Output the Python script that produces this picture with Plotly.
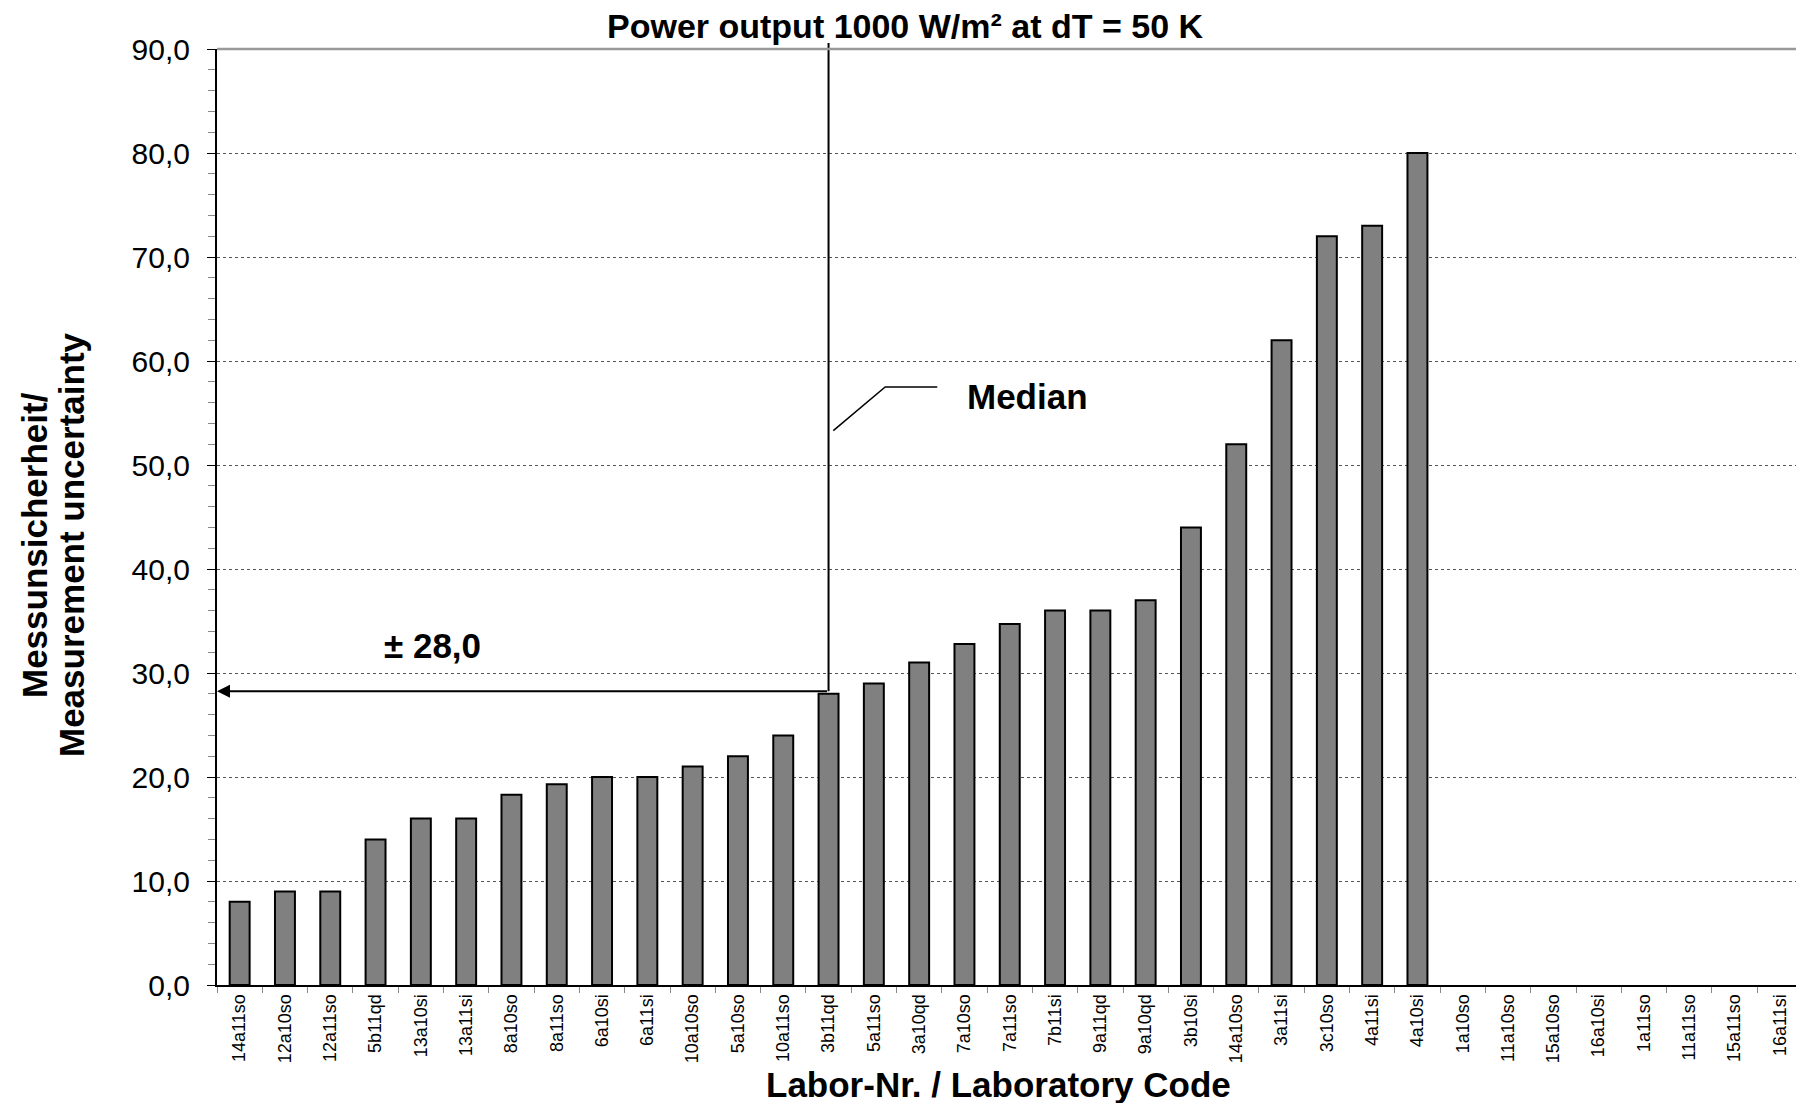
import plotly.graph_objects as go

# ---------------- data ----------------
lab_codes = ["14a11so", "12a10so", "12a11so", "5b11qd", "13a10si", "13a11si", "8a10so", "8a11so",
             "6a10si", "6a11si", "10a10so", "5a10so", "10a11so", "3b11qd", "5a11so", "3a10qd",
             "7a10so", "7a11so", "7b11si", "9a11qd", "9a10qd", "3b10si", "14a10so", "3a11si",
             "3c10so", "4a11si", "4a10si",
             "1a10so", "11a10so", "15a10so", "16a10si", "1a11so", "11a11so", "15a11so", "16a11si"]
uncertainty = [8.0, 9.0, 9.0, 14.0, 16.0, 16.0, 18.3, 19.3,
               20.0, 20.0, 21.0, 22.0, 24.0, 28.0, 29.0, 31.0,
               32.8, 34.7, 36.0, 36.0, 37.0, 44.0, 52.0, 62.0,
               72.0, 73.0, 80.0,
               None, None, None, None, None, None, None, None]
median_lab = "3b11qd"
median_value = 28.0
y_ticks = [0, 10, 20, 30, 40, 50, 60, 70, 80, 90]

title_text = "Power output 1000 W/m² at dT = 50 K"
y_title_1 = "Messunsicherheit/"
y_title_2 = "Measurement uncertainty"
x_title = "Labor-Nr. / Laboratory Code"

FONT = "Arial, 'Liberation Sans', sans-serif"

W, H = 1796, 1103
ML, MT = 217, 49
MR = 0
MB = H - 985
PW, PH = W - ML - MR, H - MT - MB

def px_x(p):  # pixel -> paper x
    return (p - ML) / PW

def px_y(p):  # pixel -> paper y
    return (H - MB - p) / PH

fig = go.Figure()
fig.add_trace(go.Bar(
    x=lab_codes, y=uncertainty,
    marker=dict(color="#808080", line=dict(color="black", width=2)),
    showlegend=False, hoverinfo="x+y",
))

mi = lab_codes.index(median_lab)

# median vertical line (extends slightly above plot)
fig.add_shape(type="line", xref="x", yref="paper",
              x0=mi, x1=mi, y0=(median_value + 0.25) / 90, y1=1 + 6 / PH,
              line=dict(color="black", width=2), layer="above")
# top border of plot area
fig.add_shape(type="line", xref="paper", yref="paper", x0=0, x1=1, y0=1, y1=1,
              line=dict(color="#999999", width=2.5), layer="above")
# median leader line
fig.add_shape(type="path", xref="x", yref="y",
              path=f"M {mi + 0.105},53.3 L {mi + 1.25},57.5 L {mi + 2.4},57.5",
              line=dict(color="black", width=1.5), layer="above")

annotations = [
    dict(text=f"<b>{title_text}</b>", xref="paper", yref="paper", x=px_x(905), y=px_y(26),
         xanchor="center", yanchor="middle", showarrow=False, font=dict(size=34, color="black", family=FONT)),
    dict(text=f"<b>{y_title_1}</b>", xref="paper", yref="paper", x=px_x(34), y=px_y(545),
         xanchor="center", yanchor="middle", textangle=-90, showarrow=False,
         font=dict(size=35, color="black", family=FONT)),
    dict(text=f"<b>{y_title_2}</b>", xref="paper", yref="paper", x=px_x(71), y=px_y(545),
         xanchor="center", yanchor="middle", textangle=-90, showarrow=False,
         font=dict(size=35, color="black", family=FONT)),
    dict(text=f"<b>{x_title}</b>", xref="paper", yref="paper", x=px_x(998), y=px_y(1084),
         xanchor="center", yanchor="middle", showarrow=False, font=dict(size=35, color="black", family=FONT)),
    dict(text="<b>Median</b>", xref="x", yref="y", x=mi + 4.4, y=56.6,
         xanchor="center", yanchor="middle", showarrow=False, font=dict(size=35, color="black", family=FONT)),
    dict(text=f"<b>± {median_value:.1f}</b>".replace(".", ","), xref="x", yref="y", x=4.25, y=32.6,
         xanchor="center", yanchor="middle", showarrow=False, font=dict(size=35, color="black", family=FONT)),
    # arrow from median to y axis
    dict(text="", xref="x", yref="y", x=-0.5, y=median_value + 0.25,
         axref="x", ayref="y", ax=mi, ay=median_value + 0.25,
         showarrow=True, arrowhead=2, arrowsize=1.3, arrowwidth=2, arrowcolor="black",
         standoff=0, startstandoff=0),
]

fig.update_layout(
    width=W, height=H, autosize=False,
    margin=dict(l=ML, r=MR, t=MT, b=MB, pad=0),
    paper_bgcolor="white", plot_bgcolor="white",
    separators=",.",
    bargap=0.56,
    font=dict(family=FONT, color="black"),
    annotations=annotations,
)

fig.update_xaxes(
    type="category", range=[-0.5, -0.5 + PW / 45.3],
    showline=True, linecolor="black", linewidth=2,
    ticks="outside", ticklen=6, tickcolor="#888888", tickwidth=1, tickson="boundaries",
    tickangle=-90, tickfont=dict(size=18, family=FONT, color="black"),
    showgrid=False, zeroline=False, fixedrange=True,
)
fig.update_yaxes(
    range=[0, 90], tickvals=y_ticks, tickformat=".1f",
    showline=True, linecolor="black", linewidth=2,
    ticks="outside", ticklen=8, tickcolor="black", tickwidth=1,
    tickfont=dict(size=30, family=FONT, color="black"), ticklabelstandoff=11,
    showgrid=True, gridcolor="#555555", gridwidth=1, griddash="dot",
    zeroline=False,
    minor=dict(dtick=2, ticks="outside", ticklen=7, tickcolor="#888888", showgrid=False),
)

# remove the default 8px page margin so the 1796x1103 figure fills the window exactly
fig.write_html("out.html",
               config={"displayModeBar": False},
               post_script="document.body.style.margin='0';document.body.style.overflow='hidden';")
